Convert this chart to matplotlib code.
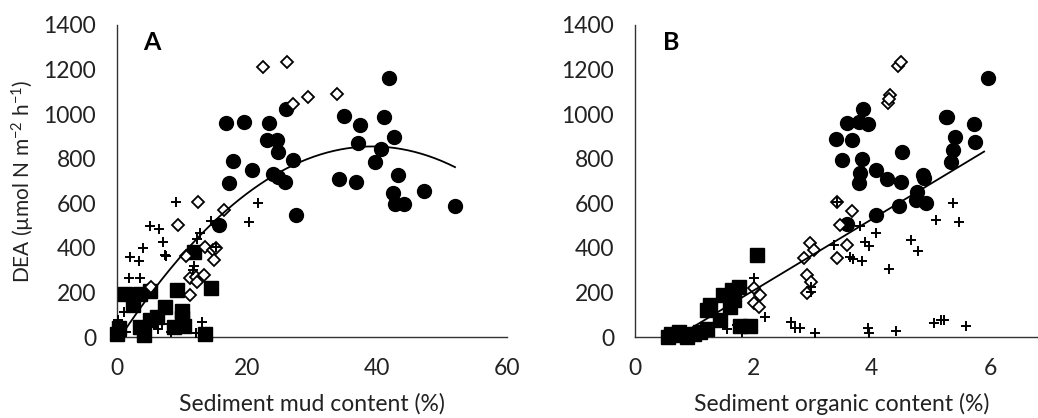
import matplotlib
matplotlib.use("Agg")
import matplotlib.pyplot as plt
import numpy as np

plt.rcParams['font.family'] = ['Lato', 'DejaVu Sans']
plt.rcParams['mathtext.default'] = 'regular'

# --- panel A: mud content (%) vs DEA ---
mud_circle_x = [16.8, 19.6, 17.2, 17.8, 20.7, 23.4, 23.0, 24.6, 24.7, 26.0, 27.1, 24.0, 24.7, 25.8, 27.5, 15.7,
                34.1, 34.9, 37.4, 37.1, 36.7, 39.7, 40.6, 41.0, 41.9, 42.6, 43.3, 42.5, 42.7, 44.2, 47.2, 52.0]
mud_circle_y = [961, 966, 689, 790, 749, 961, 883, 883, 828, 1025, 796, 733, 719, 696, 546, 501,
                711, 993, 952, 871, 696, 787, 843, 985, 1160, 898, 729, 647, 599, 599, 653, 587]
mud_diamond_x = [22.5, 26.1, 27.1, 29.4, 33.9, 12.4, 9.4, 16.5, 10.6, 13.5, 14.8, 14.9, 11.2, 12.2, 13.4, 12.3,
                 11.2, 5.3, 15.3]
mud_diamond_y = [1210, 1235, 1045, 1075, 1090, 607, 502, 570, 363, 405, 390, 345, 265, 270, 278, 248,
                 188, 226, 399]
mud_plus_x = [9.0, 5.1, 6.5, 4.0, 7.0, 7.5, 2.0, 3.4, 1.8, 3.5, 12.8, 14.5, 15.3, 21.7, 20.3, 11.9, 11.7,
              0.1, 1.1, 13.0, 6.3, 6.9, 12.2, 8.3, 1.4, 7.4, 12.3]
mud_plus_y = [606, 497, 485, 400, 425, 362, 358, 343, 264, 264, 466, 522, 405, 600, 515, 320, 300,
              76, 110, 68, 35, 58, 18, 22, 24, 366, 440]
mud_square_x = [0.0, 0.3, 1.2, 2.5, 3.5, 5.1, 3.6, 4.1, 5.0, 6.1, 7.4, 9.2, 10.0, 10.0, 8.7, 10.3, 13.6, 14.4, 11.8]
mud_square_y = [15, 40, 195, 145, 195, 205, 45, 10, 75, 90, 135, 210, 115, 85, 45, 50, 15, 220, 380]

# polynomial trendline (order 2): c2, c1, c0
mud_fit = [-0.57, 44.74, -22.9]
mud_fit_range = [0.5, 52.0]

# --- panel B: organic content (%) vs DEA ---
org_circle_x = [5.96, 5.25, 5.28, 5.73, 5.75, 5.41, 5.38, 5.34, 3.86, 3.58, 3.78, 3.93, 3.39, 3.67, 3.50,
                3.84, 3.81, 3.78, 4.52, 4.08, 4.26, 4.49, 4.86, 4.88, 4.77, 4.75, 4.92, 4.46, 4.07, 3.59]
org_circle_y = [1160, 988, 985, 955, 873, 898, 839, 786, 1021, 962, 966, 956, 888, 884, 794,
                799, 734, 689, 831, 749, 711, 697, 727, 715, 652, 615, 600, 588, 547, 507]
org_diamond_x = [4.44, 4.49, 4.27, 4.31, 4.30, 3.42, 3.67, 3.47, 3.59, 3.41, 2.95, 3.02, 2.85, 2.91, 2.97,
                 2.91, 2.01, 2.12, 2.01, 2.09]
org_diamond_y = [1216, 1235, 1048, 1088, 1070, 607, 567, 502, 413, 355, 420, 390, 353, 278, 248,
                 196, 218, 188, 151, 136]
org_plus_x = [2.01, 2.19, 2.64, 2.71, 2.79, 3.05, 2.97, 2.98, 3.36, 3.64, 3.69, 5.38, 5.08, 5.48, 4.66, 4.78,
              4.29, 4.08, 3.81, 3.88, 3.95, 3.83, 3.93, 3.95, 4.41, 5.06, 5.17, 5.22, 5.59, 1.55, 1.72, 1.81, 3.42]
org_plus_y = [263, 91, 69, 39, 42, 19, 203, 225, 413, 360, 350, 600, 525, 514, 435, 387,
              305, 468, 499, 428, 408, 341, 39, 16, 28, 64, 76, 78, 49, 37, 52, 22, 607]
org_square_x = [0.55, 0.65, 0.75, 0.88, 0.99, 1.10, 1.22, 1.22, 1.27, 1.44, 1.49, 1.64, 1.75, 1.61, 1.67,
                1.95, 1.78, 2.06, 0.60]
org_square_y = [0, 7, 22, 0, 15, 22, 37, 120, 142, 75, 187, 210, 225, 135, 165, 48, 48, 367, 15]

# linear trendline: slope, intercept
org_fit = [160.0, -112.0]
org_fit_range = [0.7, 5.9]

W, H = 1038, 418
fig = plt.figure(figsize=(W / 100, H / 100), dpi=100)
axA = fig.add_axes([117 / W, (H - 337) / H, 390 / W, 312 / H])
axB = fig.add_axes([635 / W, (H - 337) / H, 403 / W, 312 / H])


def draw_points(ax, cx, cy, dx, dy, px, py, sx, sy):
    ax.plot(sx, sy, 's', color='black', ms=9.5, mec='black', zorder=3, clip_on=False)
    ax.plot(cx, cy, 'o', color='black', ms=10, zorder=3, clip_on=False)
    ax.plot(dx, dy, 'D', mfc='white', mec='black', ms=5.8, mew=1.3, zorder=4, clip_on=False)
    ax.plot(px, py, '+', color='black', ms=7.5, mew=1.4, zorder=5, clip_on=False)


draw_points(axA, mud_circle_x, mud_circle_y, mud_diamond_x, mud_diamond_y,
            mud_plus_x, mud_plus_y, mud_square_x, mud_square_y)
xa = np.linspace(mud_fit_range[0], mud_fit_range[1], 200)
axA.plot(xa, np.polyval(mud_fit, xa), color='black', lw=1.3, zorder=6)

draw_points(axB, org_circle_x, org_circle_y, org_diamond_x, org_diamond_y,
            org_plus_x, org_plus_y, org_square_x, org_square_y)
xb = np.linspace(org_fit_range[0], org_fit_range[1], 50)
axB.plot(xb, org_fit[0] * xb + org_fit[1], color='black', lw=1.3, zorder=6)

axA.set_xlim(0, 60)
axA.set_xticks([0, 20, 40, 60])
axB.set_xlim(0, 403 / 59.17)
axB.set_xticks([0, 2, 4, 6])

fs = 16.5
for ax in (axA, axB):
    ax.set_ylim(0, 1400)
    ax.set_yticks(range(0, 1401, 200))
    for s in ('top', 'right'):
        ax.spines[s].set_visible(False)
    for s in ('left', 'bottom'):
        ax.spines[s].set_linewidth(1.0)
        ax.spines[s].set_color('#333333')
    ax.tick_params(length=0, labelsize=fs, colors='#222222')
    ax.tick_params(axis='y', pad=15)
    ax.tick_params(axis='x', pad=15)
    ax.patch.set_alpha(0)

axA.text(35 / 390, 1 - 18 / 312, 'A', transform=axA.transAxes, fontsize=18, fontweight='bold',
         ha='center', va='center')
axB.text(36 / 403, 1 - 18 / 312, 'B', transform=axB.transAxes, fontsize=18, fontweight='bold',
         ha='center', va='center')

fig.text(23 / W, 1 - 181 / H, 'DEA (µmol N m$^{-2}$ h$^{-1}$)', rotation=90, ha='center', va='center',
         fontsize=15, color='#222222')
fig.text(312 / W, 1 - 404 / H, 'Sediment mud content (%)', ha='center', va='center',
         fontsize=fs, color='#222222')
fig.text(842 / W, 1 - 404 / H, 'Sediment organic content (%)', ha='center', va='center',
         fontsize=fs, color='#222222')

fig.savefig('out.png', dpi=100)
